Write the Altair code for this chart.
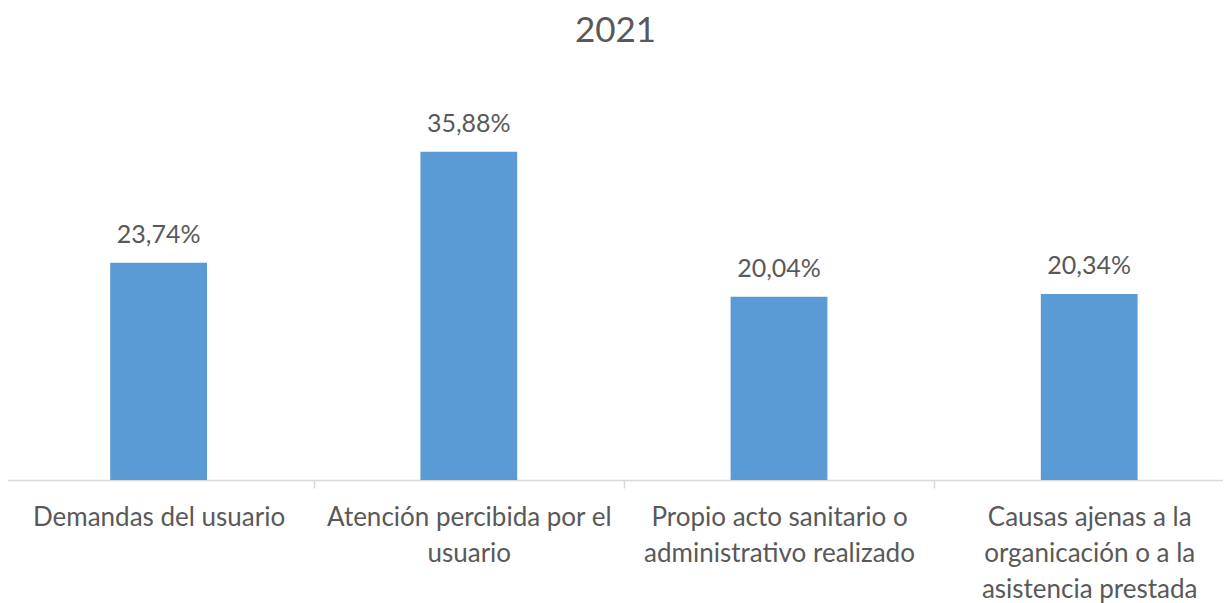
import altair as alt
import pandas as pd

categories = [
    "Demandas del usuario",
    "Atención percibida por el\nusuario",
    "Propio acto sanitario o\nadministrativo realizado",
    "Causas ajenas a la\norganicación o a la\nasistencia prestada",
]
values = [23.74, 35.88, 20.04, 20.34]

df = pd.DataFrame({"cat": categories, "v": values})

FONT = "Lato"
TXT = "#595959"

x = alt.X(
    "cat:N",
    sort=categories,
    title=None,
    scale=alt.Scale(range=[-4.5, 1236.3], paddingInner=0, paddingOuter=0),
    axis=alt.Axis(
        labelAngle=0,
        labelExpr="split(datum.label, '\\n')",
        labelFont=FONT,
        labelFontSize=26,
        labelColor=TXT,
        labelLineHeight=36,
        labelPadding=16,
        labelLimit=400,
        domainColor="#D9D9D9",
        domainWidth=1.5,
        tickColor="#D9D9D9",
        tickWidth=1.5,
        tickSize=8,
        tickBand="extent",
    ),
)
y = alt.Y("v:Q", scale=alt.Scale(domain=[0, 40]), axis=None)

base = alt.Chart(df).encode(x=x, y=y)

bars = base.mark_bar(color="#5B9BD5", width=alt.RelativeBandSize(0.312))
labels = base.mark_text(
    baseline="bottom", dy=-15, font=FONT, fontSize=25, color=TXT
).transform_calculate(
    lab="replace(format(datum.v, '.2f'), '.', ',') + '%'"
).encode(text="lab:N")

chart = (
    alt.layer(bars, labels)
    .properties(
        width=1215,
        height=366,
        autosize=alt.AutoSizeParams(type="none"),
        padding={"left": 0, "top": 106, "right": 0, "bottom": 123},
        title=alt.TitleParams(
            "2021", font=FONT, fontSize=35, fontWeight="normal", color=TXT,
            anchor="middle", offset=63,
        ),
    )
    .configure_view(stroke=None)
)

chart.save("out.html", embed_options={"renderer": "svg", "actions": False})
